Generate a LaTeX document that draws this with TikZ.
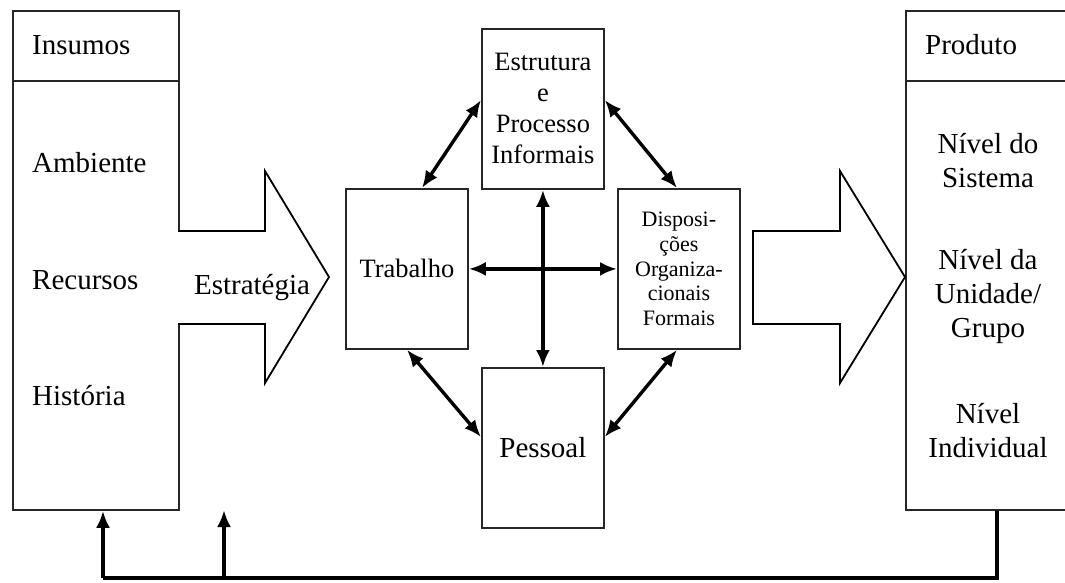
\documentclass[tikz,border=0pt]{standalone}
\usepackage{fontspec}
\setmainfont{Liberation Serif}
\usetikzlibrary{arrows.meta}

\tikzset{
  frame/.style={draw=black!85, line width=1.8pt, inner sep=0pt, anchor=north west},
  block/.style={frame, align=center, font=\fontsize{26.5}{31}\selectfont},
  label/.style={inner sep=0pt, font=\fontsize{29}{34}\selectfont},
  tip/.style={Latex[length=17pt,width=14pt]},
  link/.style={line width=3.4pt, {Latex[length=17pt,width=14pt]}-{Latex[length=17pt,width=14pt]}},
  feed/.style={line width=3.4pt},
  feedtip/.style={line width=3.4pt, -{Latex[length=17pt,width=14pt]}},
  bigarrow/.style={draw=black, line width=1.8pt, fill=white, line join=miter}
}

\begin{document}
\begin{tikzpicture}[x=1pt, y=-1pt]
\useasboundingbox (0,0) rectangle (1065,582);
\clip (0,0) rectangle (1065,582);

% input column
\node[frame, minimum width=166pt, minimum height=499pt] (inbox) at (12,10) {};
\draw[line width=1.8pt, draw=black!85] (12,81) -- (178,81);
\node[label, anchor=base west] (insumos) at (32,54) {Insumos};
\node[label, anchor=base west] (ambiente) at (32,172) {Ambiente};
\node[label, anchor=base west] (recursos) at (32,289) {Recursos};
\node[label, anchor=base west] (historia) at (32,405) {História};

% output column (runs past the right edge)
\node[frame, minimum width=175pt, minimum height=499pt] (outbox) at (905,10) {};
\draw[line width=1.8pt, draw=black!85] (905,81) -- (1080,81);
\node[label, anchor=base west] (produto) at (925,54) {Produto};
\node[label, align=center, anchor=base] (sistema) at (988,187) {Nível do\\Sistema};
\node[label, align=center, anchor=base] (unidade) at (988,337) {Nível da\\Unidade/\\Grupo};
\node[label, align=center, anchor=base] (individual) at (988,457) {Nível\\Individual};

% broad arrows
\draw[bigarrow] (178,231) -- (265,231) -- (265,171) -- (329,277) -- (265,383) -- (265,324) -- (178,324);
\node[label, anchor=base] (estrategia) at (252,294) {Estratégia};
\draw[bigarrow] (753,231) -- (840,231) -- (840,171) -- (905,277) -- (840,383) -- (840,324) -- (753,324) -- cycle;

% central components
\node[block, minimum width=122pt, minimum height=160pt] (estrutura) at (481,28) {Estrutura\\e\\Processo\\Informais};
\node[block, minimum width=122pt, minimum height=160pt] (trabalho) at (345,188) {Trabalho};
\node[block, minimum width=122pt, minimum height=160pt, font=\fontsize{22}{24.7}\selectfont] (disposicoes) at (617,188) {Disposi-\\ções\\Organiza-\\cionais\\Formais};
\node[block, minimum width=122pt, minimum height=160pt, font=\fontsize{29}{34}\selectfont] (pessoal) at (481,367) {Pessoal};

% links between components
\draw[link] (estrutura.south) -- (pessoal.north);
\draw[link] (trabalho.east) -- (disposicoes.west);
\draw[link] (estrutura.west |- 0,100) -- (trabalho.north west -| 422,0);
\draw[link] (estrutura.east |- 0,100) -- (disposicoes.north west -| 677,0);
\draw[link] (trabalho.south west -| 407,0) -- (pessoal.west |- 0,437);
\draw[link] (disposicoes.south west -| 677,0) -- (pessoal.east |- 0,437);

% feedback loop
\coordinate (fbright) at (997,578);
\coordinate (fbleft) at (103,578);
\coordinate (fbmid) at (224,578);
\coordinate (fbmidtip) at (224,510);
\draw[feed] (outbox.south west -| fbright) -- (fbright) -- (fbleft);
\draw[feedtip] (fbleft) -- (inbox.south west -| fbleft);
\draw[feedtip] (fbmid) -- (fbmidtip);
\end{tikzpicture}
\end{document}
